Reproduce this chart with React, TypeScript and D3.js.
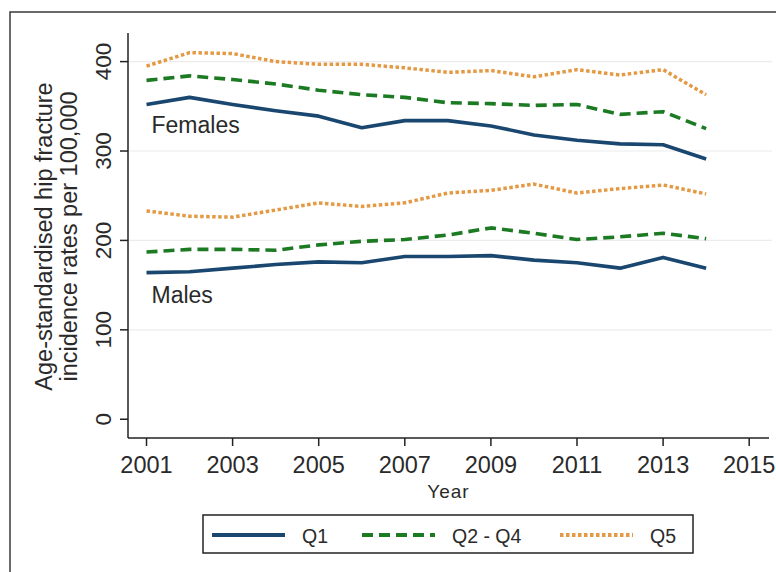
import React from "react";
import * as d3 from "d3";

// Survey years
const years = [2001, 2002, 2003, 2004, 2005, 2006, 2007, 2008, 2009, 2010, 2011, 2012, 2013, 2014];

// Age-standardised hip fracture incidence per 100,000, by deprivation group
const femalesQ1 = [352, 360, 352, 345, 339, 326, 334, 334, 328, 318, 312, 308, 307, 291];
const femalesQ2Q4 = [379, 384, 380, 375, 368, 363, 360, 354, 353, 351, 352, 341, 344, 325];
const femalesQ5 = [395, 410, 409, 400, 397, 397, 393, 388, 390, 383, 391, 385, 391, 363];
const malesQ1 = [164, 165, 169, 173, 176, 175, 182, 182, 183, 178, 175, 169, 181, 169];
const malesQ2Q4 = [187, 190, 190, 189, 195, 199, 201, 206, 214, 208, 201, 204, 208, 202];
const malesQ5 = [233, 227, 226, 234, 242, 238, 242, 253, 256, 263, 253, 258, 262, 252];

const xTicks = [2001, 2003, 2005, 2007, 2009, 2011, 2013, 2015];
const yTicks = [0, 100, 200, 300, 400];
const gridTicks = [100, 200, 300, 400];

const seriesNames = ["Q1", "Q2 - Q4", "Q5"];

const FONT = "'Liberation Sans', Arial, Helvetica, sans-serif";
const INK = "#2a2a2a";

const styles: Record<string, { color: string; dash: string | undefined; width: number }> = {
  "Q1": { color: "#1a476f", dash: undefined, width: 3.6 },
  "Q2 - Q4": { color: "#1b7a22", dash: "11,6", width: 3.6 },
  "Q5": { color: "#e49a45", dash: "3.5,2.5", width: 3.5 },
};

export default function App() {
  const W = 776;
  const H = 572;
  const left = 128;
  const right = 769;
  const top = 33;
  const bottom = 438;

  const x = d3.scaleLinear().domain([2000.57, 2015.46]).range([left, right]);
  const y = d3.scaleLinear().domain([-21, 432]).range([bottom, top]);

  const line = d3
    .line<number>()
    .x((_, i) => x(years[i]))
    .y((d) => y(d))
    .curve(d3.curveLinear);

  const series = [
    { name: "Q5", values: femalesQ5 },
    { name: "Q5", values: malesQ5 },
    { name: "Q2 - Q4", values: femalesQ2Q4 },
    { name: "Q2 - Q4", values: malesQ2Q4 },
    { name: "Q1", values: femalesQ1 },
    { name: "Q1", values: malesQ1 },
  ];

  // legend layout: key line, gap, label
  const legendLeft = 203;
  const legendRight = 693;
  const legendTop = 515;
  const legendBottom = 553;
  const legendY = 535;
  const legendItems = [
    { name: seriesNames[0], x0: 212 },
    { name: seriesNames[1], x0: 362 },
    { name: seriesNames[2], x0: 560 },
  ];

  return (
    <div style={{ position: "fixed", left: 0, top: 0, background: "#fff" }}>
      <svg width={W} height={H} style={{ display: "block" }}>
        <rect x={0} y={0} width={W} height={H} fill="#fff" />
        {/* outer frame */}
        <rect x={10} y={12} width={W + 40} height={H + 40} fill="none" stroke="#3a3a3a" strokeWidth={1.5} />

        {/* gridlines */}
        {gridTicks.map((t) => (
          <line key={"g" + t} x1={left} x2={right + 3} y1={y(t)} y2={y(t)} stroke="#ececec" strokeWidth={1.2} />
        ))}

        {/* axes */}
        <line x1={left} x2={left} y1={top} y2={bottom} stroke="#222" strokeWidth={1.5} />
        <line x1={left} x2={right} y1={bottom} y2={bottom} stroke="#222" strokeWidth={1.5} />

        {yTicks.map((t) => (
          <g key={"y" + t}>
            <line x1={left - 8} x2={left} y1={y(t)} y2={y(t)} stroke="#222" strokeWidth={1.5} />
            <text
              transform={`translate(${111},${y(t)}) rotate(-90)`}
              textAnchor="middle"
              fontFamily={FONT}
              fontSize={22.5}
              fill={INK}
            >
              {t}
            </text>
          </g>
        ))}

        {xTicks.map((t) => (
          <g key={"x" + t}>
            <line x1={x(t)} x2={x(t)} y1={bottom} y2={bottom + 8} stroke="#222" strokeWidth={1.5} />
            <text x={x(t)} y={473} textAnchor="middle" fontFamily={FONT} fontSize={23.5} fill={INK}>
              {t}
            </text>
          </g>
        ))}

        <text
          x={(left + right) / 2}
          y={498}
          textAnchor="middle"
          fontFamily={FONT}
          fontSize={19}
          letterSpacing={1}
          fill={INK}
        >
          Year
        </text>

        <g transform={`translate(0,${(top + bottom) / 2 + 1}) rotate(-90)`} fontFamily={FONT} fontSize={23.5} fill={INK}>
          <text x={0} y={52} textAnchor="middle">Age-standardised hip fracture</text>
          <text x={0} y={77} textAnchor="middle">incidence rates per 100,000</text>
        </g>

        {/* series lines */}
        {series.map((s, i) => {
          const st = styles[s.name];
          return (
            <path
              key={"s" + i}
              d={line(s.values) ?? ""}
              fill="none"
              stroke={st.color}
              strokeWidth={st.width}
              strokeDasharray={st.dash}
              strokeLinejoin="round"
            />
          );
        })}

        {/* group labels */}
        <text x={x(2001) + 5} y={y(320.5)} fontFamily={FONT} fontSize={23} fill={INK}>
          Females
        </text>
        <text x={x(2001) + 5} y={y(130.5)} fontFamily={FONT} fontSize={23} fill={INK}>
          Males
        </text>

        {/* legend */}
        <rect
          x={legendLeft}
          y={legendTop}
          width={legendRight - legendLeft}
          height={legendBottom - legendTop}
          fill="#fff"
          stroke="#222"
          strokeWidth={1.5}
        />
        {legendItems.map((it) => {
          const st = styles[it.name];
          return (
            <g key={"l" + it.name}>
              <line
                x1={it.x0}
                x2={it.x0 + 73}
                y1={legendY}
                y2={legendY}
                stroke={st.color}
                strokeWidth={st.width + 0.5}
                strokeDasharray={st.dash}
              />
              <text x={it.x0 + 90} y={543} fontFamily={FONT} fontSize={19.5} fill={INK}>
                {it.name}
              </text>
            </g>
          );
        })}
      </svg>
    </div>
  );
}
